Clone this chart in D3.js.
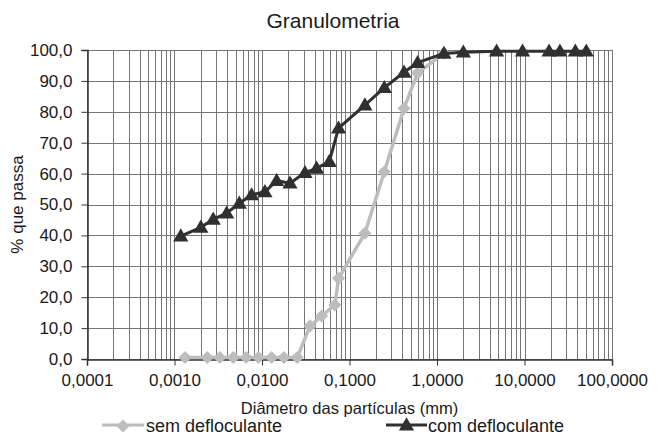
<!DOCTYPE html>
<html>
<head>
<meta charset="utf-8">
<script src="https://cdn.jsdelivr.net/npm/d3@7"></script>
<style>
  html, body { margin: 0; padding: 0; background: #fff; }
  svg { display: block; font-family: "Liberation Sans", Arial, sans-serif; }
</style>
</head>
<body>
<svg id="chart" width="664" height="441"></svg>
<script>
// ---- data ----
const semDiam = [0.00132, 0.00237, 0.0033, 0.0047, 0.0066, 0.0091, 0.0129, 0.0178, 0.0253,
                 0.0354, 0.048, 0.068, 0.075, 0.15, 0.25, 0.42, 0.6, 1.2];
const semPass = [0.5, 0.5, 0.5, 0.5, 0.5, 0.5, 0.5, 0.5, 0.5,
                 10.7, 13.9, 17.5, 26.1, 40.7, 60.6, 81.1, 92.5, 99.0];
const comDiam = [0.00118, 0.0020, 0.00277, 0.00395, 0.0055, 0.0076, 0.0108, 0.0147, 0.0209,
                 0.031, 0.042, 0.0588, 0.075, 0.15, 0.25, 0.42, 0.6, 1.2, 2.0,
                 4.8, 9.5, 19.1, 25.4, 38.1, 50.8];
const comPass = [39.8, 42.6, 45.2, 47.2, 50.4, 53.1, 54.1, 57.7, 56.9,
                 60.3, 61.7, 63.9, 74.7, 82.2, 87.8, 92.8, 95.9, 98.9, 99.3,
                 99.6, 99.6, 99.6, 99.6, 99.6, 99.6];
const xTicks = [0.0001, 0.001, 0.01, 0.1, 1, 10, 100];
const yTicks = [0, 10, 20, 30, 40, 50, 60, 70, 80, 90, 100];
const seriesNames = ["sem defloculante", "com defloculante"];

// ---- layout ----
const svg = d3.select("#chart");
const L = 87, R = 612, T = 50, B = 359;
const x = d3.scaleLog().domain([0.0001, 100]).range([L, R]);
const y = d3.scaleLinear().domain([0, 100]).range([B, T]);
const fmtX = d => d3.format(".4f")(d).replace(".", ",");
const fmtY = d => d3.format(".1f")(d).replace(".", ",");

// grid: vertical (log minor + major)
const vLines = [];
for (let e = -4; e < 2; e++) for (let m = 1; m < 10; m++) vLines.push(m * Math.pow(10, e));
vLines.push(100);
svg.append("g").selectAll("line").data(vLines).join("line")
  .attr("x1", d => Math.round(x(d)) + 0.5).attr("x2", d => Math.round(x(d)) + 0.5)
  .attr("y1", T).attr("y2", B)
  .attr("stroke", "#767676").attr("stroke-width", 1);
// grid: horizontal
svg.append("g").selectAll("line").data(yTicks).join("line")
  .attr("x1", L).attr("x2", R)
  .attr("y1", d => Math.round(y(d)) + 0.5).attr("y2", d => Math.round(y(d)) + 0.5)
  .attr("stroke", "#767676").attr("stroke-width", 1);

// axes
const yAxis = svg.append("g").attr("transform", `translate(${L + 0.5},0)`)
  .call(d3.axisLeft(y).tickValues(yTicks).tickFormat(fmtY).tickSize(6).tickPadding(9));
yAxis.select(".domain").attr("stroke", "#333").attr("stroke-width", 1.5);
yAxis.selectAll(".tick line").attr("stroke", "#333");
yAxis.selectAll("text").attr("font-size", 17).attr("fill", "#1a1a1a")
  .attr("font-family", "Liberation Sans, Arial, sans-serif");

const xAxis = svg.append("g").attr("transform", `translate(0,${B + 0.5})`)
  .call(d3.axisBottom(x).tickValues(xTicks).tickFormat(fmtX).tickSize(6).tickPadding(8));
xAxis.select(".domain").attr("stroke", "#333").attr("stroke-width", 1.5);
xAxis.selectAll(".tick line").attr("stroke", "#333");
xAxis.selectAll("text").attr("font-size", 17).attr("fill", "#1a1a1a")
  .attr("font-family", "Liberation Sans, Arial, sans-serif");

// series
const semData = semDiam.map((d, i) => [d, semPass[i]]);
const comData = comDiam.map((d, i) => [d, comPass[i]]);
const line = d3.line().x(d => x(d[0])).y(d => y(d[1]));
const grey = "#bdbdbd", dark = "#303030";
const diamond = d3.symbol().type(d3.symbolDiamond2).size(110);
const tri = d3.symbol().type(d3.symbolTriangle).size(100);

svg.append("path").datum(semData).attr("d", line)
  .attr("fill", "none").attr("stroke", grey).attr("stroke-width", 3.5);
svg.append("g").selectAll("path").data(semData).join("path")
  .attr("d", diamond).attr("transform", d => `translate(${x(d[0])},${y(d[1])})`)
  .attr("fill", grey);

svg.append("path").datum(comData).attr("d", line)
  .attr("fill", "none").attr("stroke", dark).attr("stroke-width", 3);
svg.append("g").selectAll("path").data(comData).join("path")
  .attr("d", tri).attr("transform", d => `translate(${x(d[0])},${y(d[1]) + 1})`)
  .attr("fill", dark);

// titles
svg.append("text").attr("x", 333).attr("y", 28).attr("text-anchor", "middle")
  .attr("font-size", 21).attr("fill", "#1a1a1a").text("Granulometria");
svg.append("text").attr("x", (L + R) / 2).attr("y", 414).attr("text-anchor", "middle")
  .attr("font-size", 16.5).attr("fill", "#1a1a1a").text("Diâmetro das partículas (mm)");
svg.append("text").attr("transform", `translate(23,${(T + B) / 2}) rotate(-90)`)
  .attr("text-anchor", "middle").attr("font-size", 17).attr("fill", "#1a1a1a").text("% que passa");

// legend
const legY = 431;
const leg = [
  { name: seriesNames[0], x0: 102, x1: 144, color: grey, sym: diamond, tx: 146 },
  { name: seriesNames[1], x0: 386, x1: 427, color: dark, sym: tri, tx: 428 }
];
const lg = svg.append("g").selectAll("g").data(leg).join("g");
lg.append("line").attr("x1", d => d.x0).attr("x2", d => d.x1)
  .attr("y1", legY - 6).attr("y2", legY - 6).attr("stroke", d => d.color).attr("stroke-width", 3);
lg.append("path").attr("d", d => d.sym())
  .attr("transform", d => `translate(${(d.x0 + d.x1) / 2},${legY - 5})`).attr("fill", d => d.color);
lg.append("text").attr("x", d => d.tx).attr("y", legY + 1).attr("font-size", 18)
  .attr("fill", "#1a1a1a").text(d => d.name);
</script>
</body>
</html>
